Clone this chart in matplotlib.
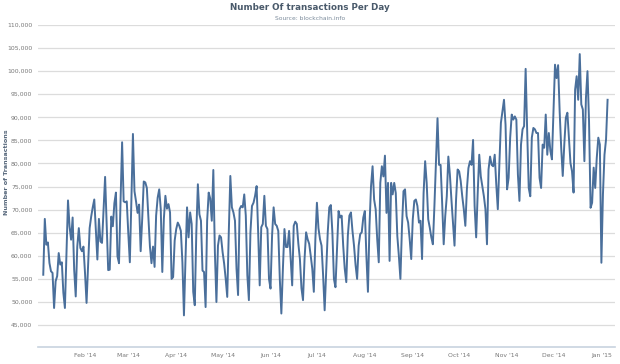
import matplotlib
matplotlib.use("Agg")
import matplotlib.pyplot as plt
import matplotlib.dates as mdates
import matplotlib.ticker as mticker
import pandas as pd
import numpy as np

# ---- data (daily transactions) ----
start_date = "2014-01-05"
values = [
    55900, 68000, 62400, 62900, 58450, 56650, 56300,
    48700, 54500, 55600, 60600, 58100, 58600, 52000,
    48700, 60000, 72000, 66400, 63500, 68300, 57000,
    51200, 62000, 66000, 61700, 61000, 62000, 56300,
    49800, 58000, 66000, 68500, 70500, 72200, 65700,
    59200, 68000, 63100, 62800, 70000, 77100, 67100,
    56900, 57000, 68500, 66400, 71400, 73700, 59900,
    58400, 72000, 84600, 71800, 71600, 71800, 64900,
    58600, 72000, 86400, 74000, 71800, 69300, 71100,
    61000, 68000, 76100, 75900, 74700, 68500, 62000,
    58400, 62000, 57600, 68700, 72600, 74400, 70100,
    56500, 68000, 73000, 70200, 71200, 69400, 55000,
    55400, 63300, 65800, 67200, 66500, 65400, 58600,
    47100, 59300, 70500, 64000, 69400, 66900, 52200,
    49300, 65100, 75500, 69000, 67600, 56800, 56500,
    48900, 67600, 73700, 72400, 67600, 78600, 60800,
    50000, 62200, 64400, 64000, 60800, 58300, 55000,
    51100, 65100, 77300, 70500, 69400, 67600, 57200,
    51500, 70100, 70800, 70500, 73300, 68700, 55800,
    50400, 65100, 70800, 71500, 73000, 75100, 65100,
    53600, 66200, 66900, 73000, 66500, 65800, 55000,
    52900, 64400, 70500, 66900, 66500, 65400, 55000,
    47500, 57200, 65800, 61900, 61900, 65400, 59300,
    53600, 66500, 67400, 66900, 62600, 59300, 53000,
    50400, 59300, 65100, 63600, 62600, 60000, 57200,
    52200, 63600, 71500, 66000, 63600, 62200, 55800,
    48200, 56500, 65100, 70500, 71000, 65100, 55000,
    53200, 61500, 69700, 68300, 68700, 62200, 57200,
    54300, 64400, 68700, 69400, 65400, 62200, 58000,
    55000, 62200, 64700, 65100, 68300, 69700, 60000,
    52200, 66500, 75100, 79400, 72200, 70100, 63600,
    58600, 75800, 79400, 77200, 81700, 69300, 75800,
    58900, 75800, 73300, 75800, 73600, 64300, 60000,
    55000, 66100, 74000, 74400, 68600, 67200, 63600,
    59300, 67900, 71900, 72200, 70800, 67200, 67600,
    59300, 73600, 80500, 75800, 67900, 66100, 64000,
    62500, 70800, 80100, 89800, 79700, 79700, 71500,
    62500, 68600, 72900, 81500, 77600, 72200, 67200,
    62200, 72200, 78700, 78300, 76200, 72900, 70100,
    66500, 74400, 79000, 80500, 79700, 85100, 70800,
    64000, 73600, 81900, 77200, 75100, 72900, 70100,
    62500, 78700, 81500, 79700, 79400, 81900, 75500,
    70100, 79800, 88800, 91300, 93800, 88400, 74400,
    76900, 85600, 90600, 89500, 90200, 89500, 77600,
    71900, 84100, 87400, 88100, 100500, 87000, 74700,
    72900, 85600, 87700, 87400, 86600, 86600, 76900,
    74700, 84100, 83400, 90600, 81900, 86600, 82700,
    80900, 91300, 101400, 98500, 101300, 91300, 83400,
    77300, 84100, 89900, 91000, 85600, 80100, 78300,
    73700, 96000, 98900, 93800, 103700, 92800, 91700,
    80500, 94200, 100000, 89200, 70400, 71500, 79100,
    74700, 81200, 85600, 84100, 58500, 73300, 81900,
    85200, 93800,
]
title = "Number Of transactions Per Day"
subtitle = "Source: blockchain.info"
y_title = "Number of Transactions"
y_ticks = list(range(45000, 110001, 5000))

dates = pd.date_range(start_date, periods=len(values), freq="D")

fig = plt.figure(figsize=(6.2, 3.64), dpi=100)
ax = fig.add_axes([38/620, 1 - 347/364, (615-38)/620, (347-25)/364])

ax.plot(dates, values, color="#4a6f9b", linewidth=1.4, solid_joinstyle="round")

ax.set_ylim(40250, 110000)
ax.set_yticks(y_ticks)
ax.yaxis.set_major_formatter(mticker.FuncFormatter(lambda v, p: f"{int(v):,}"))
ax.grid(axis="y", color="#dcdcdc", linewidth=0.9)
ax.set_axisbelow(True)

x0 = pd.Timestamp(start_date) - pd.Timedelta(days=3.4)
x1 = pd.Timestamp(start_date) + pd.Timedelta(days=369.8)
ax.set_xlim(x0, x1)
ax.xaxis.set_major_locator(mdates.MonthLocator())
ax.xaxis.set_major_formatter(mdates.DateFormatter("%b '%y"))

for s in ["top", "right", "left"]:
    ax.spines[s].set_visible(False)
ax.spines["bottom"].set_color("#c8d3df")
ax.spines["bottom"].set_linewidth(1.2)

ax.tick_params(axis="y", length=0, labelsize=4.4, labelcolor="#777777", pad=4)
ax.tick_params(axis="x", length=0, labelsize=4.4, labelcolor="#777777", pad=4)

fig.text(7/620, 1 - 172/364, y_title, rotation=90, ha="center", va="center",
         fontsize=4.6, fontweight="bold", color="#55667a")

fig.text(0.5, 1 - 8/364, title, ha="center", va="center", fontsize=6.3,
         fontweight="bold", color="#4a5a6b")
fig.text(0.5, 1 - 18/364, subtitle, ha="center", va="center", fontsize=4.3,
         color="#7a8a9a")

fig.savefig("out.png", dpi=100)
